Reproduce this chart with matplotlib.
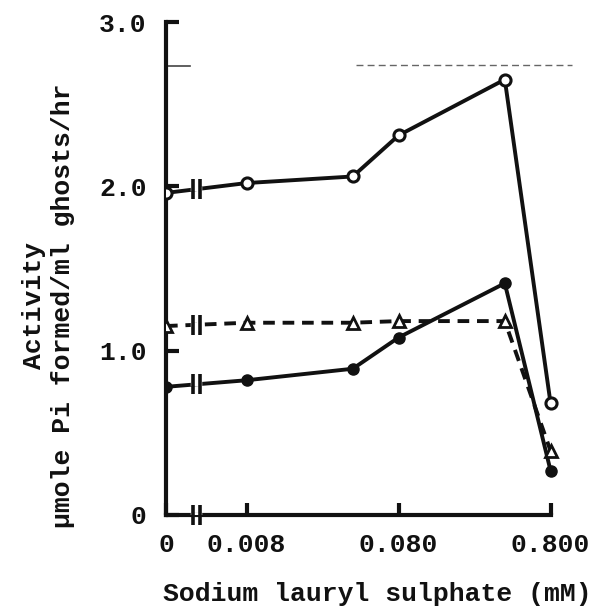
import numpy as np
import matplotlib
matplotlib.use("Agg")
import matplotlib.pyplot as plt

# SLS concentration (mM); 0 is drawn left of the axis break
conc = [0, 0.008, 0.04, 0.08, 0.4, 0.8]

open_circles = [1.96, 2.02, 2.06, 2.31, 2.65, 0.68]
filled_circles = [0.78, 0.82, 0.89, 1.08, 1.41, 0.27]
triangles = [1.15, 1.17, 1.17, 1.18, 1.18, 0.39]

xtick_vals = [0, 0.008, 0.080, 0.800]
xtick_text = ["0", "0.008", "0.080", "0.800"]
ytick_vals = [0, 1.0, 2.0, 3.0]
ytick_text = ["0", "1.0", "2.0", "3.0"]

# x scale: log10 of concentration, zero placed 0.53 decade left of 0.008
ZERO_POS = np.log10(0.008) - 0.53
BREAK_POS = ZERO_POS + 0.2


def xpos(c):
    c = np.asarray(c, dtype=float)
    out = np.full(c.shape, ZERO_POS)
    out[c > 0] = np.log10(c[c > 0])
    return out


plt.rcParams['font.family'] = ['Liberation Mono', 'DejaVu Sans Mono']
plt.rcParams['font.weight'] = 'bold'
plt.rcParams['axes.labelweight'] = 'bold'

fig = plt.figure(figsize=(6.02, 6.12), dpi=100)
ax = fig.add_axes([166 / 602, 97 / 612, 414 / 602, 493 / 612])

xs = xpos(conc)
ink = "#111111"
fs = 19

ax.plot(xs, open_circles, color=ink, lw=2.8, marker="o", ms=8,
        mfc="white", mec=ink, mew=2.2, zorder=3)
ax.plot(xs, filled_circles, color=ink, lw=2.8, marker="o", ms=8,
        mfc=ink, mec=ink, zorder=3)
ax.plot(xs, triangles, color=ink, lw=2.8, ls=(0, (3, 2)), marker="^",
        ms=8, mfc="white", mec=ink, mew=2.0, zorder=3)

# faint broken rule across the top
ax.plot([np.log10(0.042), np.log10(1.1)], [2.74, 2.74], color="#666666",
        lw=1.0, ls=(0, (5, 3)), zorder=1, clip_on=False)
ax.plot([ZERO_POS, ZERO_POS + 0.16], [2.73, 2.73], color="#444444",
        lw=1.2, zorder=1)

# axis-break marks on each line and on the x axis
gap = 0.045
for ys in (open_circles, filled_circles, triangles, [0, 0, 0, 0, 0, 0]):
    yb = np.interp(BREAK_POS, xs[:2], ys[:2])
    for dx in (-gap / 2, gap / 2):
        ax.plot([BREAK_POS + dx, BREAK_POS + dx], [yb - 0.06, yb + 0.06],
                color=ink, lw=2.6, solid_capstyle="butt", zorder=4,
                clip_on=False)
    ax.plot([BREAK_POS - gap / 2, BREAK_POS + gap / 2], [yb, yb],
            color="white", lw=3.2, zorder=3.5)

ax.set_xlim(ZERO_POS, ZERO_POS + 414 / 152)
ax.set_ylim(0, 3.0)

for side in ("top", "right"):
    ax.spines[side].set_visible(False)
for side in ("left", "bottom"):
    ax.spines[side].set_linewidth(3.0)
    ax.spines[side].set_color(ink)
ax.spines["bottom"].set_bounds(ZERO_POS, np.log10(0.8))

ax.set_xticks(xpos(xtick_vals))
ax.set_xticklabels(xtick_text)
ax.set_yticks(ytick_vals)
ax.set_yticklabels(ytick_text)
ax.tick_params(axis="both", direction="in", length=9, width=3,
               color=ink, labelsize=fs, labelcolor=ink)
ax.tick_params(axis="x", pad=13)
ax.tick_params(axis="y", pad=14)

ax.set_xlabel("Sodium lauryl sulphate (mM)", fontsize=fs, color=ink)
ax.xaxis.set_label_coords(0.51, -0.135)
ax.set_ylabel("Activity\n\u03bcmole Pi formed/ml ghosts/hr", fontsize=fs,
              color=ink, linespacing=1.25)
ax.yaxis.set_label_coords(-0.22, 0.425)

fig.savefig("out.png", dpi=100)
